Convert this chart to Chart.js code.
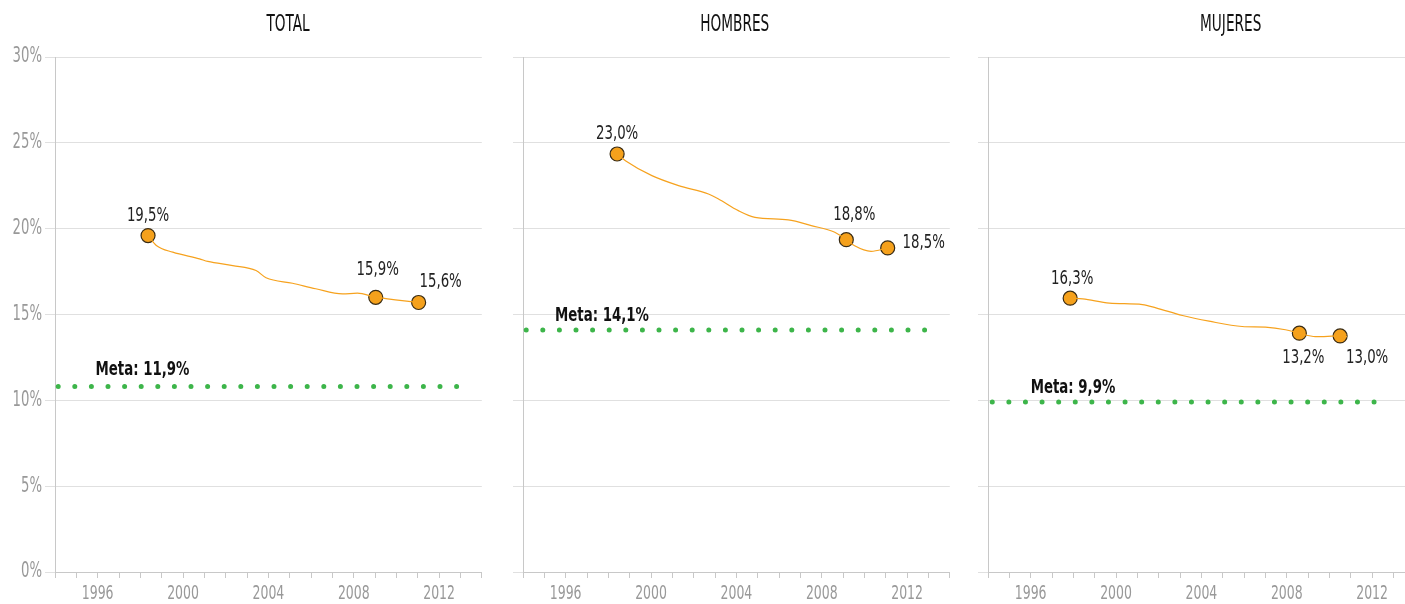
<!DOCTYPE html>
<html>
<head>
<meta charset="utf-8">
<script src="https://cdn.jsdelivr.net/npm/chart.js@4"></script>
<style>
  html, body { margin: 0; padding: 0; background: #fff; overflow: hidden; width: 1405px; height: 604px; }
  .panel { position: absolute; top: 0; width: 490px; height: 604px; }
</style>
</head>
<body>
<script>
// panel titles
const panelTitles = ['TOTAL', 'HOMBRES', 'MUJERES'];

// orange trend lines (year, %)
const totalYears = [1998.36, 1998.75, 1999.52, 2000.77, 2001.16, 2002.33, 2003.42, 2003.89, 2005.13, 2006.22, 2007.47, 2008.17, 2009.03, 2011.04];
const totalValues = [19.6, 19.02, 18.63, 18.24, 18.09, 17.85, 17.56, 17.14, 16.82, 16.5, 16.2, 16.24, 16.01, 15.7];
const hombresYears = [1998.41, 1998.8, 2000.04, 2001.29, 2002.69, 2003.16, 2004.09, 2004.87, 2006.43, 2007.51, 2008.61, 2009.15, 2009.54, 2010.31, 2011.09];
const hombresValues = [24.35, 23.96, 23.09, 22.51, 22.02, 21.73, 21.05, 20.66, 20.51, 20.18, 19.79, 19.36, 19.0, 18.68, 18.88];
const mujeresYears = [1997.85, 1998.44, 1999.69, 2001.24, 2001.87, 2003.11, 2004.36, 2005.91, 2007.0, 2007.94, 2008.59, 2009.34, 2010.5, 2010.82];
const mujeresValues = [15.95, 15.91, 15.66, 15.58, 15.39, 14.94, 14.61, 14.3, 14.26, 14.11, 13.91, 13.71, 13.75, 13.71];

// highlighted survey points
const totalMarkYears = [1998.36, 2009.03, 2011.04];
const totalMarkValues = [19.6, 16.0, 15.7];
const totalMarkLabels = ['19,5%', '15,9%', '15,6%'];
const hombresMarkYears = [1998.41, 2009.15, 2011.09];
const hombresMarkValues = [24.35, 19.36, 18.88];
const hombresMarkLabels = ['23,0%', '18,8%', '18,5%'];
const mujeresMarkYears = [1997.85, 2008.59, 2010.5];
const mujeresMarkValues = [15.95, 13.91, 13.75];
const mujeresMarkLabels = ['16,3%', '13,2%', '13,0%'];

// goal (meta) lines
const metaValues = [10.8, 14.1, 9.9];
const metaLabels = ['Meta: 11,9%', 'Meta: 14,1%', 'Meta: 9,9%'];
const metaStart = [1994.15, 1994.15, 1994.2];
const metaEnd = [2013.2, 2013.45, 2012.75];

// axis ticks
const yMin = 0, yMax = 30, yStep = 5;
const xMin = 1994, xMax = 2014, xLabelEvery = 4, xLabelFrom = 1996;

// layout / styling
const panelLeft = [0, 468.3, 933.3];
const titleCenter = [288, 735, 1231];
const labelOffsets = [
  [[0, -20], [2, -28], [22, -21]],
  [[0, -20], [8, -25], [36, -5]],
  [[2, -19], [4, 25], [27, 22]]
];
const metaLabelYear = [1995.9, 1995.5, 1996.0];
const metaLabelDy = [-17, -14, -14];

const FONT = "'DejaVu Sans Condensed', 'DejaVu Sans', sans-serif";
const ORANGE = '#F6A21E';
const GREEN = '#3DB54A';

const panels = [
  { years: totalYears, values: totalValues, mx: totalMarkYears, my: totalMarkValues, ml: totalMarkLabels },
  { years: hombresYears, values: hombresValues, mx: hombresMarkYears, my: hombresMarkValues, ml: hombresMarkLabels },
  { years: mujeresYears, values: mujeresValues, mx: mujeresMarkYears, my: mujeresMarkValues, ml: mujeresMarkLabels }
];

// narrow, tall text (the original uses a condensed face)
function narrowText(ctx, text, x, y, font, color, align, sx) {
  ctx.save();
  ctx.font = font;
  ctx.fillStyle = color;
  ctx.textAlign = align;
  ctx.textBaseline = 'middle';
  ctx.translate(x, y);
  ctx.scale(sx, 1);
  ctx.fillText(text, 0, 0);
  ctx.restore();
}

const labelPlugin = {
  id: 'labels',
  afterDraw(chart, args, opts) {
    const ctx = chart.ctx;
    const i = opts.panel;
    const xs = chart.scales.x, ys = chart.scales.y;

    // title
    narrowText(ctx, panelTitles[i], titleCenter[i] - panelLeft[i], 25, '23px ' + FONT, '#111', 'center', 0.66);

    // x tick labels
    xs.ticks.forEach(t => {
      if ((t.value - xLabelFrom) % xLabelEvery !== 0) return;
      narrowText(ctx, String(t.value), xs.getPixelForValue(t.value), 594, '19px ' + FONT, '#999', 'center', 0.73);
    });

    // y tick labels (first panel only)
    if (i === 0) {
      ys.ticks.forEach(t => {
        narrowText(ctx, t.value + '%', ys.left + 42, ys.getPixelForValue(t.value), '21px ' + FONT, '#999', 'right', 0.7);
      });
    }

    // point labels
    const meta = chart.getDatasetMeta(2);
    meta.data.forEach((pt, k) => {
      const off = labelOffsets[i][k];
      narrowText(ctx, panels[i].ml[k], pt.x + off[0], pt.y + off[1], '20px ' + FONT, '#222', 'center', 0.74);
    });

    // meta label
    narrowText(ctx, metaLabels[i], xs.getPixelForValue(metaLabelYear[i]), ys.getPixelForValue(metaValues[i]) + metaLabelDy[i],
      'bold 19px ' + FONT, '#111', 'left', 0.78);
  }
};

panels.forEach((p, i) => {
  const div = document.createElement('div');
  div.className = 'panel';
  div.style.left = panelLeft[i] + 'px';
  const canvas = document.createElement('canvas');
  canvas.width = 490;
  canvas.height = 604;
  div.appendChild(canvas);
  document.body.appendChild(div);

  new Chart(canvas, {
    type: 'line',
    data: {
      datasets: [
        {
          data: [{ x: metaStart[i], y: metaValues[i] }, { x: metaEnd[i], y: metaValues[i] }],
          borderColor: GREEN,
          borderWidth: 5,
          borderDash: [0, 16.6],
          borderCapStyle: 'round',
          pointRadius: 0
        },
        {
          data: p.years.map((x, k) => ({ x: x, y: p.values[k] })),
          borderColor: ORANGE,
          borderWidth: 1.2,
          cubicInterpolationMode: 'monotone',
          pointRadius: 0
        },
        {
          data: p.mx.map((x, k) => ({ x: x, y: p.my[k] })),
          showLine: false,
          pointRadius: 7,
          pointBackgroundColor: '#F5A11C',
          pointBorderColor: '#3a2c14',
          pointBorderWidth: 1.2
        }
      ]
    },
    options: {
      responsive: false,
      animation: false,
      layout: { padding: { top: 57, right: 6, bottom: 0, left: 0 } },
      plugins: {
        legend: { display: false },
        tooltip: { enabled: false },
        labels: { panel: i }
      },
      scales: {
        x: {
          type: 'linear',
          min: xMin,
          max: xMax,
          afterFit(s) { s.height = 32; },
          grid: { drawOnChartArea: false, tickLength: 6, color: '#c8c8c8' },
          border: { color: '#c8c8c8' },
          ticks: {
            stepSize: 1,
            autoSkip: false,
            maxRotation: 0,
            color: 'rgba(0,0,0,0)',
            callback: () => ''
          }
        },
        y: {
          min: yMin,
          max: yMax,
          afterFit(s) { s.width = 55; },
          grid: { color: '#e0e0e0', tickLength: 10 },
          border: { color: '#c8c8c8' },
          ticks: {
            stepSize: yStep,
            color: 'rgba(0,0,0,0)',
            callback: () => ''
          }
        }
      }
    },
    plugins: [labelPlugin]
  });
});
</script>
</body>
</html>
